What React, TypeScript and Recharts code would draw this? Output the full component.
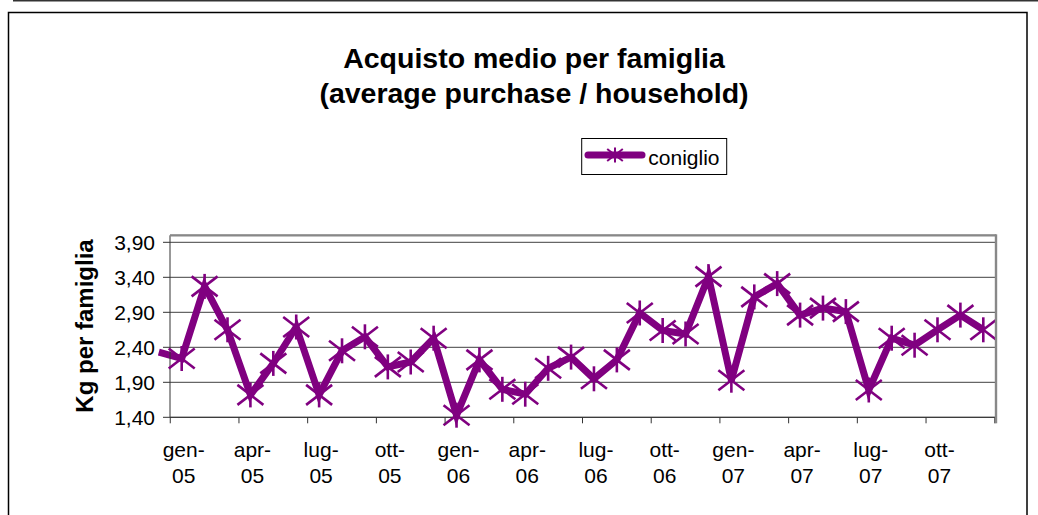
import { CartesianGrid, Line, LineChart, XAxis, YAxis } from 'recharts';

// mesi (dic-04 is only a stub left of the axis, as in the original sheet)
const months = [
  'dic-04',
  'gen-05', 'feb-05', 'mar-05', 'apr-05', 'mag-05', 'giu-05', 'lug-05', 'ago-05', 'set-05', 'ott-05', 'nov-05', 'dic-05',
  'gen-06', 'feb-06', 'mar-06', 'apr-06', 'mag-06', 'giu-06', 'lug-06', 'ago-06', 'set-06', 'ott-06', 'nov-06', 'dic-06',
  'gen-07', 'feb-07', 'mar-07', 'apr-07', 'mag-07', 'giu-07', 'lug-07', 'ago-07', 'set-07', 'ott-07', 'nov-07', 'dic-07',
];

// Kg per famiglia
const coniglio = [
  2.33,
  2.24, 3.27, 2.65, 1.72, 2.17, 2.69, 1.72, 2.35, 2.55, 2.12, 2.19, 2.53,
  1.43, 2.22, 1.80, 1.73, 2.10, 2.26, 1.95, 2.22, 2.89, 2.64, 2.59, 3.41,
  1.93, 3.12, 3.31, 2.86, 2.96, 2.91, 1.79, 2.53, 2.43, 2.65, 2.86, 2.65,
];

const yTicks = [1.4, 1.9, 2.4, 2.9, 3.4, 3.9];

const data = months.map((m, i) => ({ m, coniglio: coniglio[i] }));

const W = 1038;
const H = 515;
const PLOT_L = 170;
const PLOT_R = 996;
const PLOT_T = 235.3;
const PLOT_B = 417.3;
const X_AXIS_H = 90;
const PAD_L = -11.2;
const PAD_R = 12.7;
const STEP = (PLOT_R - PLOT_L - PAD_L - PAD_R) / (months.length - 1);
const PURPLE = '#800080';
const FONT = '"Liberation Sans", Arial, sans-serif';

const Star = ({ cx, cy, s = 1, w = 2.6 }: { cx: number; cy: number; s?: number; w?: number }) => (
  <g stroke={PURPLE} strokeWidth={w}>
    <line x1={cx - 13 * s} y1={cy - 10 * s} x2={cx + 13 * s} y2={cy + 10 * s} />
    <line x1={cx - 13 * s} y1={cy + 10 * s} x2={cx + 13 * s} y2={cy - 10 * s} />
    <line x1={cx} y1={cy - 12.5 * s} x2={cx} y2={cy + 12.5 * s} />
  </g>
);

const renderDot = (p: any) => {
  const key = `dot-${p.index}`;
  if (p.index === 0) return <g key={key} />;
  return <Star key={key} cx={p.cx} cy={p.cy} />;
};

const XTick = ({ x, y, payload }: any) => {
  const i = payload.index;
  const last = i === months.length - 1;
  if (i % 3 !== 1 && !last) return <g />;
  if (last) {
    const tx = x + STEP / 2;
    return <line x1={tx} y1={y} x2={tx} y2={y + 6} stroke="#333" />;
  }
  const tx = x - STEP / 2;
  const [mon, yr] = String(payload.value).split('-');
  return (
    <g>
      <line x1={tx} y1={y} x2={tx} y2={y + 6} stroke="#333" />
      <text x={x + 2} y={y + 39.4} textAnchor="middle" fontSize={21} fill="#000">
        {mon}-
      </text>
      <text x={x + 2} y={y + 66} textAnchor="middle" fontSize={21} fill="#000">
        {yr}
      </text>
    </g>
  );
};

export default function App() {
  return (
    <div
      style={{
        position: 'absolute',
        top: 0,
        left: 0,
        width: W,
        height: H,
        overflow: 'hidden',
        background: '#fff',
        fontFamily: FONT,
      }}
    >
      <LineChart
        width={W}
        height={H}
        data={data}
        margin={{ top: PLOT_T, right: W - PLOT_R, bottom: H - PLOT_B - X_AXIS_H, left: 0 }}
      >
        <CartesianGrid vertical={false} stroke="#404040" />
        <XAxis
          dataKey="m"
          interval={0}
          height={X_AXIS_H}
          padding={{ left: PAD_L, right: PAD_R }}
          tickLine={false}
          tickSize={0}
          tickMargin={0}
          tick={<XTick />}
          axisLine={{ stroke: '#333' }}
        />
        <YAxis
          width={PLOT_L}
          domain={[1.4, 4.0]}
          ticks={yTicks}
          tickSize={7}
          tickMargin={8}
          tickFormatter={(v: number) => v.toFixed(2).replace('.', ',')}
          tick={{ fill: '#000', fontSize: 21 }}
          tickLine={{ stroke: '#333' }}
          axisLine={{ stroke: '#333' }}
        />
        <Line
          type="linear"
          dataKey="coniglio"
          stroke={PURPLE}
          strokeWidth={7}
          dot={renderDot}
          activeDot={false}
          isAnimationActive={false}
        />
      </LineChart>

      <svg
        width={W}
        height={H}
        style={{ position: 'absolute', top: 0, left: 0, pointerEvents: 'none', fontFamily: FONT }}
      >
        <line x1={13} y1={0.8} x2={W} y2={0.8} stroke="#333" strokeWidth={1.6} />
        <rect x={8.5} y={12.5} width={1018.5} height={520} fill="none" stroke="#000" strokeWidth={1.5} />

        {/* plot area border */}
        <line x1={PLOT_L} y1={PLOT_T} x2={PLOT_R} y2={PLOT_T} stroke="#888" strokeWidth={2.2} />
        <line x1={PLOT_R} y1={PLOT_T - 1} x2={PLOT_R} y2={PLOT_B + 6} stroke="#888" strokeWidth={2.4} />

        <text x={534} y={68.3} textAnchor="middle" fontSize={28.5} fontWeight="bold" fill="#000">
          Acquisto medio per famiglia
        </text>
        <text x={534} y={103.3} textAnchor="middle" fontSize={28.5} fontWeight="bold" fill="#000">
          (average purchase / household)
        </text>

        <text
          x={93}
          y={326}
          transform="rotate(-90 93 326)"
          textAnchor="middle"
          fontSize={24}
          fontWeight="bold"
          fill="#000"
        >
          Kg per famiglia
        </text>

        {/* legend */}
        <rect x={581.7} y={138.5} width={145} height={36} fill="#fff" stroke="#000" strokeWidth={1} />
        <line x1={588} y1={155} x2={642} y2={155} stroke={PURPLE} strokeWidth={7} strokeLinecap="round" />
        <Star cx={615} cy={155} s={0.6} w={2} />
        <text x={648.3} y={164.7} fontSize={21} fill="#000">
          coniglio
        </text>
      </svg>
    </div>
  );
}
